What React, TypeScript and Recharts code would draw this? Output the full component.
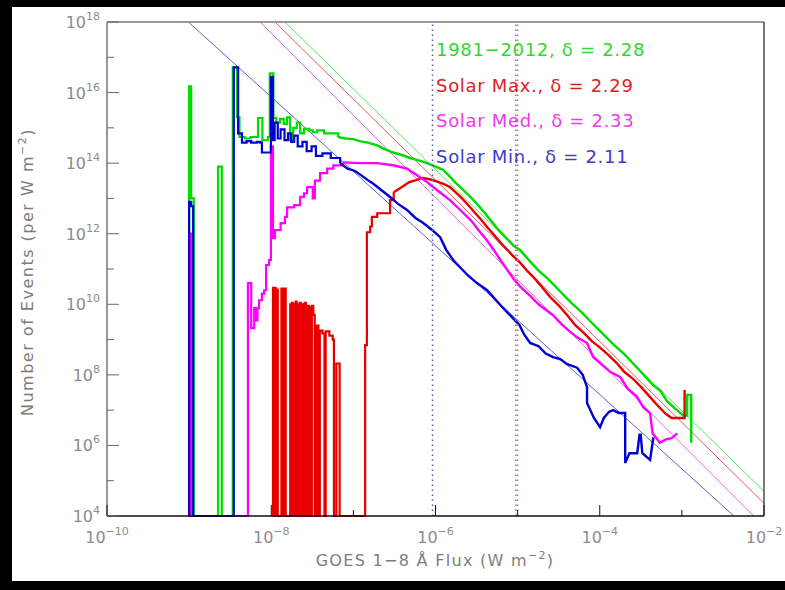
import React from 'react'
import { LineChart, Line, XAxis, YAxis, ReferenceLine } from 'recharts'

type Pt = [number, number]

// log-spaced axes, one tick per decade; every other one is labelled
const xTicks = [1e-10, 1e-9, 1e-8, 1e-7, 1e-6, 1e-5, 1e-4, 1e-3, 1e-2]
const yTicks = [1e4, 1e5, 1e6, 1e7, 1e8, 1e9, 1e10, 1e11, 1e12, 1e13, 1e14, 1e15, 1e16, 1e17, 1e18]

// [flux W m^-2, events per W m^-2].
// "head" = the spiky low-flux part (drawn as steps), "tail" = the fine-binned fall-off
const allCyclesHead: Pt[] = [
  [9.8e-10, 1e4], [1.0e-9, 1.5e16], [1.06e-9, 1e13], [1.14e-9, 1e4], [2.25e-9, 8e13], [2.5e-9, 1e4],
  [3.4e-9, 5.2e16], [3.83e-9, 2e15], [4.1e-9, 5.5e14], [4.8e-9, 5e14], [5.6e-9, 5.5e14], [6.9e-9, 1.9e15],
  [7.8e-9, 4.5e14], [9.1e-9, 5.5e14], [9.6e-9, 3.5e16], [1.06e-8, 1.9e15], [1.15e-8, 1.4e15], [1.28e-8, 1.8e15],
  [1.42e-8, 1.3e15], [1.56e-8, 2e15], [1.7e-8, 4.5e14], [1.85e-8, 1e15], [2.05e-8, 1.4e15], [2.25e-8, 7e14],
  [2.5e-8, 9.4e14], [2.9e-8, 8.5e14], [3.2e-8, 7.5e14], [3.6e-8, 8.5e14], [4.4e-8, 7e14], [5.7e-8, 7e14],
  [6.5e-8, 5.5e14],
]
const allCyclesTail: Pt[] = [
  [6.5e-8, 5.5e14], [8e-8, 5e14], [1e-7, 4.8e14], [1.2e-7, 4.2e14], [1.5e-7, 3.8e14], [1.95e-7, 3.2e14],
  [2.4e-7, 2.5e14], [3.05e-7, 2e14], [3.9e-7, 1.7e14], [4.9e-7, 1.4e14], [6.2e-7, 1.2e14], [7.9e-7, 1e14],
  [1e-6, 8e13], [1.23e-6, 6.5e13], [1.45e-6, 4.5e13], [1.7e-6, 3e13], [2e-6, 2.1e13], [2.4e-6, 1.4e13],
  [2.9e-6, 9e12], [3.5e-6, 5.5e12], [4.2e-6, 3.3e12], [5e-6, 2e12], [6e-6, 1.2e12], [7.5e-6, 7e11],
  [9e-6, 4.5e11], [1.07e-5, 3.5e11], [1.4e-5, 1.7e11], [1.8e-5, 9e10], [2.4e-5, 5e10], [3.3e-5, 2.3e10],
  [4.5e-5, 1.1e10], [6e-5, 6e9], [8e-5, 3e9], [1e-4, 1.8e9], [1.23e-4, 1.1e9], [1.5e-4, 7e8],
  [2e-4, 3.8e8], [2.6e-4, 2e8], [3.3e-4, 1.1e8], [4.5e-4, 5e7], [5.5e-4, 3.5e7], [6.6e-4, 1.8e7],
  [8e-4, 1.2e7], [1.04e-3, 7e6], [1.16e-3, 7e6], [1.16e-3, 2.7e7], [1.3e-3, 2.7e7], [1.3e-3, 1.2e6],
]

const solarMaxHead: Pt[] = [
  [1.03e-8, 1e4], [1.05e-8, 2.9e10], [1.08e-8, 1e4], [1.1e-8, 2.9e10], [1.13e-8, 1e4], [1.16e-8, 2.6e10],
  [1.2e-8, 1e4], [1.33e-8, 2.8e10], [1.38e-8, 1e4], [1.43e-8, 2.8e10], [1.5e-8, 1e4], [1.7e-8, 1e10],
  [1.74e-8, 1e4], [1.78e-8, 1.1e10], [1.83e-8, 1e4], [1.88e-8, 1e10], [1.93e-8, 1e4], [1.98e-8, 1.2e10],
  [2.04e-8, 1e4], [2.1e-8, 1e10], [2.16e-8, 1e4], [2.22e-8, 1.1e10], [2.3e-8, 1e4], [2.38e-8, 1e10],
  [2.46e-8, 1e4], [2.55e-8, 1.1e10], [2.64e-8, 1e4], [2.74e-8, 9e9], [2.84e-8, 1e4], [2.95e-8, 8.5e9],
  [3.05e-8, 1e4], [3.12e-8, 9e9], [3.25e-8, 5e9], [3.38e-8, 1e4], [3.55e-8, 2.5e9], [3.75e-8, 1e4],
  [3.9e-8, 1.8e9], [4.2e-8, 1.5e9], [4.45e-8, 1e4], [4.6e-8, 1.7e9], [5.1e-8, 1.3e9], [5.6e-8, 1e9],
  [5.8e-8, 1e4], [6.2e-8, 2.1e8], [6.8e-8, 1e4], [1.39e-7, 7e8], [1.46e-7, 1.1e12], [1.6e-7, 1.6e12],
  [1.68e-7, 3e12], [1.95e-7, 3.8e12], [2.8e-7, 9e12], [3.1e-7, 1.5e13],
]
const solarMaxTail: Pt[] = [
  [3.1e-7, 1.5e13], [3.9e-7, 2.1e13], [4.8e-7, 2.9e13], [5.8e-7, 3.3e13], [7e-7, 3.8e13], [8.5e-7, 3.5e13],
  [1.05e-6, 3e13], [1.25e-6, 2.6e13], [1.5e-6, 2.1e13], [1.75e-6, 1.5e13], [2.1e-6, 1e13], [2.5e-6, 6.5e12],
  [3e-6, 4e12], [3.6e-6, 2.5e12], [4.3e-6, 1.5e12], [5.2e-6, 9e11], [6.2e-6, 5.5e11], [7.5e-6, 3.5e11],
  [8.7e-6, 2.4e11], [1.05e-5, 1.6e11], [1.3e-5, 9e10], [1.6e-5, 5.5e10], [2e-5, 3e10], [2.5e-5, 1.6e10],
  [3.2e-5, 9e9], [4e-5, 5e9], [5e-5, 2.6e9], [6.3e-5, 1.6e9], [8e-5, 9e8], [1e-4, 6e8],
  [1.25e-4, 3.8e8], [1.6e-4, 2.2e8], [2e-4, 1.2e8], [2.5e-4, 8e7], [3.2e-4, 4.5e7], [4e-4, 2.5e7],
  [5e-4, 1.4e7], [6.3e-4, 8e6], [7.5e-4, 6e6], [1.08e-3, 6e6], [1.08e-3, 3.7e7],
]

const solarMedHead: Pt[] = [
  [9.8e-10, 1e4], [1.0e-9, 1e12], [1.05e-9, 1e4], [5.2e-9, 4e10], [5.7e-9, 2.1e9], [6.2e-9, 7.8e9],
  [6.6e-9, 3.5e9], [6.8e-9, 7.8e9], [7.1e-9, 1.3e10], [7.7e-9, 2e10], [8.2e-9, 2.5e10], [8.65e-9, 1.3e11],
  [9.4e-9, 1.8e11], [9.9e-9, 3e14], [1.05e-8, 7.5e11], [1.11e-8, 1.26e12], [1.3e-8, 2e12], [1.47e-8, 3e12],
  [1.56e-8, 5.6e12], [1.9e-8, 6.5e12], [2.25e-8, 1.1e13], [2.5e-8, 1.4e13], [2.73e-8, 2.1e13], [3.2e-8, 1e13],
  [3.4e-8, 3.2e13], [3.93e-8, 5.2e13], [4.8e-8, 7e13], [5.7e-8, 8.7e13], [7.5e-8, 1.05e14],
]
const solarMedTail: Pt[] = [
  [7.5e-8, 1.05e14], [1.2e-7, 1e14], [1.95e-7, 1e14], [3.05e-7, 8.7e13], [4.5e-7, 7e13], [5.9e-7, 4.6e13],
  [7.9e-7, 2.9e13], [1.05e-6, 1.7e13], [1.5e-6, 9e12], [2e-6, 4.7e12], [2.7e-6, 2.4e12], [3.4e-6, 1.2e12],
  [4.2e-6, 6.6e11], [5.2e-6, 3.3e11], [6.5e-6, 1.5e11], [8.8e-6, 5.5e10], [1.1e-5, 3e10], [1.4e-5, 1.8e10],
  [1.8e-5, 1e10], [2.2e-5, 7e9], [2.7e-5, 4.9e9], [3.4e-5, 2.8e9], [4.3e-5, 1.7e9], [5.5e-5, 1.1e9],
  [7e-5, 8e8], [8.3e-5, 3.2e8], [1.05e-4, 2e8], [1.35e-4, 1.2e8], [1.77e-4, 8.7e7], [2.2e-4, 4e7],
  [2.8e-4, 2.5e7], [3.4e-4, 1.2e7], [4.1e-4, 8.3e6], [4.4e-4, 2.2e6], [5.4e-4, 1.2e6], [6.5e-4, 1.5e6],
  [7.5e-4, 1.6e6], [8.8e-4, 2.2e6],
]

const solarMinHead: Pt[] = [
  [9.8e-10, 1e4], [1.0e-9, 8e12], [1.06e-9, 6e12], [1.12e-9, 1e4], [3.5e-9, 5.2e16], [3.95e-9, 7e14],
  [4.4e-9, 3.8e14], [5e-9, 4.2e14], [5.7e-9, 3.8e14], [6.7e-9, 4e14], [7.3e-9, 3.8e14], [7.7e-9, 2e14],
  [9.4e-9, 2e14], [9.9e-9, 2.8e16], [1.05e-8, 4.5e14], [1.1e-8, 1.4e15], [1.2e-8, 5e14], [1.3e-8, 9e14],
  [1.45e-8, 4.5e14], [1.6e-8, 7e14], [1.75e-8, 4e14], [1.9e-8, 6e14], [2.1e-8, 3e14], [2.4e-8, 4e14],
  [2.7e-8, 2.2e14], [3.1e-8, 3e14], [3.5e-8, 1.6e14], [4.2e-8, 1.9e14], [5.3e-8, 1.4e14], [6.9e-8, 1e14],
]
const solarMinTail: Pt[] = [
  [6.9e-8, 1e14], [8.5e-8, 7e13], [1.05e-7, 6e13], [1.25e-7, 4.5e13], [1.5e-7, 3.3e13], [1.75e-7, 2.6e13],
  [2.2e-7, 1.7e13], [2.8e-7, 1.1e13], [3.5e-7, 7e12], [4.5e-7, 4.7e12], [5.7e-7, 2.8e12], [7.1e-7, 2e12],
  [9e-7, 1.3e12], [1.14e-6, 8e11], [1.35e-6, 3.5e11], [1.64e-6, 1.8e11], [2e-6, 1.1e11], [2.5e-6, 6.5e10],
  [3.2e-6, 4e10], [4.25e-6, 2.5e10], [5.3e-6, 1.4e10], [6.6e-6, 8e9], [8.8e-6, 4e9], [1.05e-5, 2.6e9],
  [1.2e-5, 1.4e9], [1.42e-5, 8e8], [1.8e-5, 6.5e8], [2.2e-5, 4e8], [2.7e-5, 3.2e8], [3.3e-5, 2.8e8],
  [4e-5, 2e8], [4.6e-5, 1.8e8], [5.3e-5, 1.6e8], [6.2e-5, 1e8], [7e-5, 4.5e7], [7e-5, 1.6e7],
  [8.5e-5, 6e6], [1.01e-4, 3.3e6], [1.12e-4, 6e6], [1.3e-4, 9e6], [1.46e-4, 1e7], [1.7e-4, 8.3e6],
  [2.04e-4, 8.3e6], [2.04e-4, 3.2e5], [2.3e-4, 6e5], [2.86e-4, 6e5], [3.05e-4, 2e6], [3.15e-4, 2e6],
  [3.3e-4, 6e5], [4.1e-4, 3.9e5], [4.5e-4, 1.7e6],
]

// power-law fits, end points where they leave the frame
const fitAll: Pt[] = [[1.47e-8, 1e18], [1e-2, 5e4]]
const fitMax: Pt[] = [[1.11e-8, 1e18], [1e-2, 2.3e4]]
const fitMed: Pt[] = [[7.3e-9, 1e18], [7.5e-3, 1e4]]
const fitMin: Pt[] = [[9.8e-10, 1e18], [4.3e-3, 1e4]]

const legendLabels = ['1981\u22122012, \u03b4 = 2.28', 'Solar Max., \u03b4 = 2.29', 'Solar Med., \u03b4 = 2.33', 'Solar Min., \u03b4 = 2.11']
const markerFlux = [9.2e-7, 9.5e-6, 1.0e-5]

const seriesColors = ['#00dc00', '#e60000', '#ff00ff', '#0000d2']
const fitColors = ['#5ae85a', '#e05a5a', '#e46ae4', '#6060d8']
const textColors = ['#30d830', '#d82424', '#ea3cea', '#3c3cc8']
const markerColors = ['#5a5ab8', '#c050d0', '#a89810']

const rows = (pts: Pt[]) => pts.map(([x, y]) => ({ x, y }))

const FONT = '"DejaVu Sans", sans-serif'
const TICK_GREY = '#8c8c8c'

const exp = (v: number) => Math.round(Math.log10(v))
const sup = (e: number) => (e < 0 ? '\u2212' + Math.abs(e) : String(e))

function BottomTick(props: any) {
  const { x, y, payload } = props
  const e = exp(payload.value)
  const major = e % 2 === 0
  return (
    <g>
      <line x1={x} y1={y} x2={x} y2={y - (major ? 11 : 6)} stroke="#111" />
      {major && (
        <text x={x} y={y + 27} textAnchor="middle" fill={TICK_GREY} fontSize={16} fontFamily={FONT}>
          10<tspan dy={-8} fontSize={11}>{sup(e)}</tspan>
        </text>
      )}
    </g>
  )
}

function TopTick(props: any) {
  const { x, y, payload } = props
  const major = exp(payload.value) % 2 === 0
  return <line x1={x} y1={y} x2={x} y2={y + (major ? 11 : 6)} stroke="#666" />
}

function LeftTick(props: any) {
  const { x, y, payload } = props
  const e = exp(payload.value)
  const major = e % 2 === 0
  return (
    <g>
      <line x1={x} y1={y} x2={x + (major ? 12 : 7)} y2={y} stroke="#666" />
      {major && (
        <text x={x - 7} y={y + 6} textAnchor="end" fill={TICK_GREY} fontSize={16} fontFamily={FONT}>
          10<tspan dy={-8} fontSize={11}>{sup(e)}</tspan>
        </text>
      )}
    </g>
  )
}

function RightTick(props: any) {
  const { x, y, payload } = props
  const major = exp(payload.value) % 2 === 0
  return <line x1={x} y1={y} x2={x - (major ? 12 : 7)} y2={y} stroke="#111" />
}

export default function App() {
  const heads = [allCyclesHead, solarMaxHead, solarMedHead, solarMinHead]
  const tails = [allCyclesTail, solarMaxTail, solarMedTail, solarMinTail]
  const fits = [fitAll, fitMax, fitMed, fitMin]
  return (
    <div style={{ position: 'relative', width: 785, height: 590, background: '#000', overflow: 'hidden' }}>
      <style>{'body{margin:0}'}</style>
      <div style={{ position: 'absolute', left: 12, top: 7, right: 0, bottom: 9, background: '#fff' }} />
      <div style={{ position: 'absolute', left: 0, top: 0 }}>
        <LineChart width={785} height={590} margin={{ top: 21, right: 20, bottom: 14, left: 7 }}>
          <XAxis
            dataKey="x"
            type="number"
            scale="log"
            domain={[1e-10, 1e-2]}
            ticks={xTicks}
            interval={0}
            height={60}
            tickSize={0}
            tickMargin={0}
            tickLine={false}
            tick={<BottomTick />}
            axisLine={{ stroke: '#111', strokeWidth: 1.5 }}
          />
          <XAxis
            xAxisId="top"
            orientation="top"
            dataKey="x"
            type="number"
            scale="log"
            domain={[1e-10, 1e-2]}
            ticks={xTicks}
            interval={0}
            height={1}
            tickSize={0}
            tickMargin={0}
            tickLine={false}
            tick={<TopTick />}
            axisLine={{ stroke: '#777', strokeWidth: 1.5 }}
          />
          <YAxis
            dataKey="y"
            type="number"
            scale="log"
            domain={[1e4, 1e18]}
            ticks={yTicks}
            interval={0}
            width={100}
            tickSize={0}
            tickMargin={0}
            tickLine={false}
            tick={<LeftTick />}
            axisLine={{ stroke: '#777', strokeWidth: 1.5 }}
          />
          <YAxis
            yAxisId="right"
            orientation="right"
            dataKey="y"
            type="number"
            scale="log"
            domain={[1e4, 1e18]}
            ticks={yTicks}
            interval={0}
            width={1}
            tickSize={0}
            tickMargin={0}
            tickLine={false}
            tick={<RightTick />}
            axisLine={{ stroke: '#222', strokeWidth: 1.2 }}
          />
          {fits.map((f, i) => (
            <Line
              key={'fit' + i}
              data={rows(f)}
              dataKey="y"
              type="linear"
              stroke={fitColors[i]}
              strokeWidth={1}
              dot={false}
              isAnimationActive={false}
            />
          ))}
          {heads.map((d, i) => [
            <Line
              key={'head' + i}
              data={rows(d)}
              dataKey="y"
              type="stepAfter"
              stroke={seriesColors[i]}
              strokeWidth={2.2}
              dot={false}
              isAnimationActive={false}
            />,
            <Line
              key={'tail' + i}
              data={rows(tails[i])}
              dataKey="y"
              type="linear"
              stroke={seriesColors[i]}
              strokeWidth={2.4}
              strokeLinejoin="miter"
              dot={false}
              isAnimationActive={false}
            />,
          ])}
          {markerFlux.map((m, i) => (
            <ReferenceLine key={'m' + i} x={m} stroke={markerColors[i]} strokeWidth={1.5} strokeDasharray="1.5 3.5" />
          ))}
        </LineChart>
      </div>
      {legendLabels.map((t, i) => (
        <div
          key={t}
          style={{
            position: 'absolute',
            left: 436,
            top: 41 + i * 35.5,
            color: textColors[i],
            fontFamily: FONT,
            fontSize: 18,
            lineHeight: '18px',
            letterSpacing: 0.7,
            whiteSpace: 'nowrap',
          }}
        >
          {t}
        </div>
      ))}
      <div
        style={{
          position: 'absolute',
          left: 435,
          top: 553,
          transform: 'translateX(-50%)',
          color: '#7c7c7c',
          fontFamily: FONT,
          fontSize: 16,
          lineHeight: '16px',
          letterSpacing: 1.3,
          whiteSpace: 'nowrap',
        }}
      >
        GOES 1{'\u2212'}8 {'\u00c5'} Flux (W m<sup style={{ fontSize: 11, verticalAlign: 7, lineHeight: 0 }}>{'\u2212'}2</sup>)
      </div>
      <div
        style={{
          position: 'absolute',
          left: 28,
          top: 272,
          transform: 'translate(-50%, -50%) rotate(-90deg)',
          color: '#7c7c7c',
          fontFamily: FONT,
          fontSize: 16,
          lineHeight: '16px',
          letterSpacing: 1.5,
          whiteSpace: 'nowrap',
        }}
      >
        Number of Events (per W m<sup style={{ fontSize: 11, verticalAlign: 7, lineHeight: 0 }}>{'\u2212'}2</sup>)
      </div>
    </div>
  )
}
